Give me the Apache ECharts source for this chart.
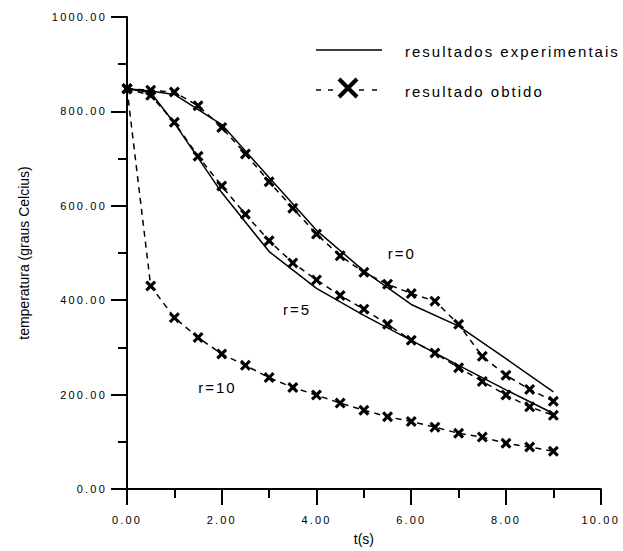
<!DOCTYPE html>
<html>
<head>
<meta charset="utf-8">
<script src="https://cdn.jsdelivr.net/npm/echarts@6/dist/echarts.min.js"></script>
<style>
  html, body { margin: 0; padding: 0; background: #fff; }
  #chart { width: 623px; height: 551px; }
  /* tracking per text size: tick labels 11px, captions 15px */
  #chart text[style*="11px"] { letter-spacing: 2.2px; }
  #chart text[style*="15px"] { letter-spacing: 2px; }
</style>
</head>
<body>
<div id="chart"></div>
<script>
// Time samples (s)
const simTimes = [0, 0.5, 1, 1.5, 2, 2.5, 3, 3.5, 4, 4.5, 5, 5.5, 6, 6.5, 7, 7.5, 8, 8.5, 9];
const expTimes = [0, 0.5, 1, 2, 3, 4, 5, 6, 7, 8, 9];

// Experimental temperatures (solid lines)
const expR0 = [848, 843, 836, 772, 660, 548, 462, 391, 345, 276, 206];
const expR5 = [848, 840, 775, 628, 503, 425, 368, 315, 262, 210, 160];

// Computed temperatures (dashed lines with crosses)
const simR0 = [848, 845, 841, 812, 766, 710, 651, 595, 540, 494, 459, 434, 414, 398, 349, 281, 241, 211, 186];
const simR5 = [848, 834, 777, 705, 642, 582, 526, 479, 443, 410, 381, 349, 315, 288, 257, 228, 199, 174, 156];
const simR10 = [848, 430, 363, 321, 286, 262, 236, 215, 199, 182, 167, 153, 143, 131, 118, 110, 97, 89, 80];

// Curve labels: text and anchor in data coordinates
const curveLabels = ['r=0', 'r=5', 'r=10'];
const curveLabelAt = [[5.8, 498], [3.59, 380], [1.91, 214]];

const legendNames = ['resultados experimentais', 'resultado obtido'];
const xName = 't(s)';
const yName = 'temperatura (graus Celcius)';

const FONT = "'Liberation Sans', Arial, sans-serif";
// letter spacing (px) used for each font size, mirrored in the CSS above
const TRACKING = { 11: 2.2, 15: 2 };

// Text measurement that includes the letter spacing applied by CSS
if (echarts.setPlatformAPI) {
  const mctx = document.createElement('canvas').getContext('2d');
  echarts.setPlatformAPI({
    measureText: function (text, font) {
      font = font || '12px sans-serif';
      const m = /(\d+(?:\.\d+)?)px/.exec(font);
      const size = m ? parseFloat(m[1]) : 12;
      mctx.font = font;
      mctx.letterSpacing = (TRACKING[size] || 0) + 'px';
      return mctx.measureText(text);
    }
  });
}

// Cross marker as a filled outline
const CROSS = 'path://M0,2L2,0L5,3L8,0L10,2L7,5L10,8L8,10L5,7L2,10L0,8L3,5Z';

const pairs = (xs, ys) => xs.map((x, i) => [x, ys[i]]);

const solid = (data) => ({
  type: 'line', data: data, symbol: 'none', silent: true, animation: false,
  lineStyle: { color: '#000', width: 1.5, type: 'solid' }
});
const dashed = (data) => ({
  type: 'line', data: data, symbol: CROSS, symbolSize: 11, silent: true, animation: false,
  itemStyle: { color: '#000' },
  lineStyle: { color: '#000', width: 1.5, type: [6, 5] }
});

const chart = echarts.init(document.getElementById('chart'), null, { renderer: 'svg' });

const axisCommon = {
  axisLine: { show: true, onZero: false, lineStyle: { color: '#000', width: 2 } },
  axisTick: { show: true, inside: false, length: 16, lineStyle: { color: '#000', width: 2 } },
  minorTick: { show: true, splitNumber: 2, length: 9, lineStyle: { color: '#000', width: 2 } },
  splitLine: { show: false },
  nameTextStyle: { color: '#000', fontFamily: FONT, fontSize: 14 }
};

chart.setOption({
  animation: false,
  backgroundColor: '#fff',
  grid: { left: 127, right: 20, top: 17, bottom: 58, containLabel: false },
  xAxis: Object.assign({}, axisCommon, {
    type: 'value', min: 0, max: 10, interval: 2,
    name: xName, nameLocation: 'middle', nameGap: 43,
    axisLabel: { color: '#000', fontFamily: FONT, fontSize: 11, margin: 24,
      formatter: (v) => v.toFixed(2) }
  }),
  yAxis: Object.assign({}, axisCommon, {
    type: 'value', min: 0, max: 1000, interval: 200,
    name: yName, nameLocation: 'middle', nameGap: 96,
    axisLabel: { color: '#000', fontFamily: FONT, fontSize: 11, margin: 20,
      formatter: (v) => v.toFixed(2) }
  }),
  series: [
    solid(pairs(expTimes, expR0)),
    solid(pairs(expTimes, expR5)),
    dashed(pairs(simTimes, simR0)),
    dashed(pairs(simTimes, simR5)),
    dashed(pairs(simTimes, simR10))
  ]
});

// Legend and curve labels
const textStyle = (extra) => Object.assign({ fill: '#000', font: '15px ' + FONT }, extra);
const seg = (x1, y1, x2, y2, w) => ({ type: 'line', shape: { x1, y1, x2, y2 }, style: { stroke: '#000', lineWidth: w } });
const graphics = [
  seg(316, 50, 382, 50, 1.5),
  { type: 'text', x: 405, y: 51, style: textStyle({ text: legendNames[0], verticalAlign: 'middle' }) },
  seg(316, 90, 321, 90, 1.5),
  seg(328, 90, 333, 90, 1.5),
  seg(359, 90, 364, 90, 1.5),
  seg(372, 90, 377, 90, 1.5),
  seg(339, 79, 357, 97, 4),
  seg(357, 79, 339, 97, 4),
  { type: 'text', x: 405, y: 91, style: textStyle({ text: legendNames[1], verticalAlign: 'middle' }) }
];
curveLabels.forEach((label, i) => {
  const p = chart.convertToPixel({ gridIndex: 0 }, curveLabelAt[i]);
  graphics.push({ type: 'text', x: p[0], y: p[1],
    style: textStyle({ text: label, align: 'center', verticalAlign: 'middle' }) });
});
chart.setOption({ graphic: graphics });
</script>
</body>
</html>
